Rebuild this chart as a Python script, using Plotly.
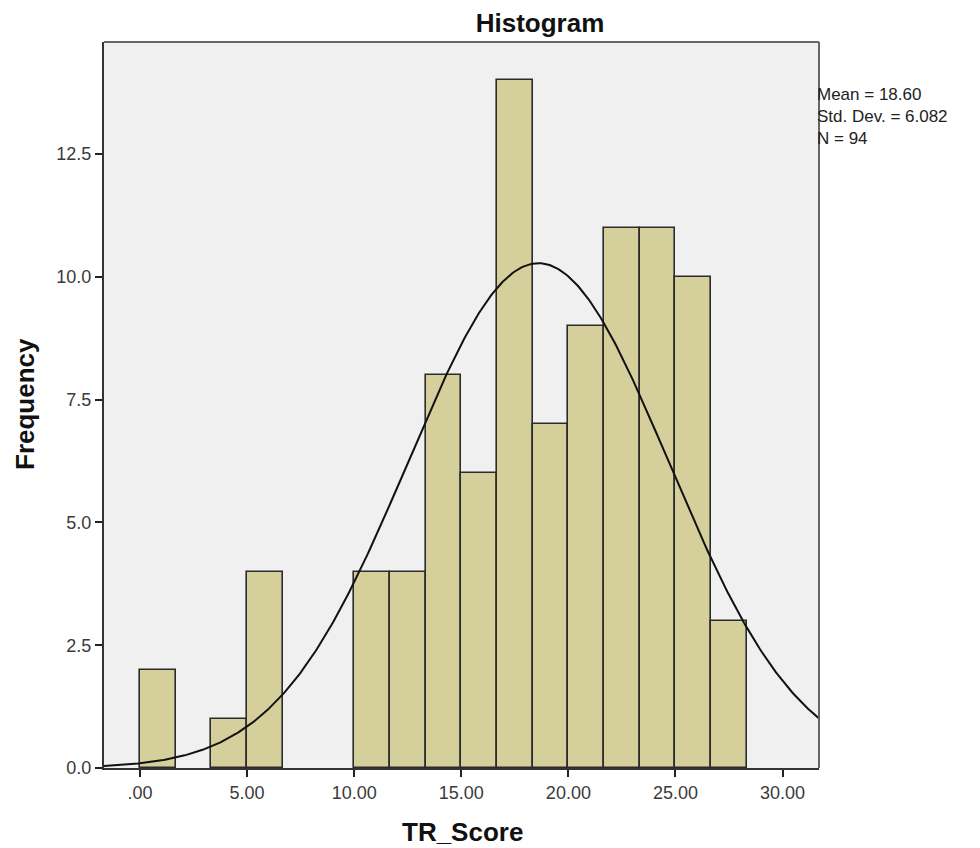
import numpy as np
import plotly.graph_objects as go

# Data
bin_width = 5.0 / 3.0
bin_starts = [0.0, 10/3, 5.0, 10.0, 35/3, 40/3, 15.0, 50/3, 55/3, 20.0, 65/3, 70/3, 25.0, 80/3]
counts = [2, 1, 4, 4, 4, 8, 6, 14, 7, 9, 11, 11, 10, 3]
mean_val = 18.60
sd_val = 6.082
n_val = 94
x_tick_vals = [0, 5, 10, 15, 20, 25, 30]
x_tick_text = [".00", "5.00", "10.00", "15.00", "20.00", "25.00", "30.00"]
y_tick_vals = [0, 2.5, 5.0, 7.5, 10.0, 12.5]

x_range = [-1.68, 31.7]
y_range = [0, 14.78]

centers = [s + bin_width / 2 for s in bin_starts]

fig = go.Figure()
fig.add_trace(go.Bar(
    x=centers, y=counts, width=[bin_width] * len(counts),
    marker=dict(color="#d4cf9b", line=dict(color="#2b2b2b", width=1.6)),
    hoverinfo="x+y", showlegend=False,
))

xs = np.linspace(x_range[0], x_range[1], 400)
ys = n_val * bin_width / (sd_val * np.sqrt(2 * np.pi)) * np.exp(-0.5 * ((xs - mean_val) / sd_val) ** 2)
fig.add_trace(go.Scatter(x=xs, y=ys, mode="lines", line=dict(color="#111111", width=2),
                         showlegend=False, hoverinfo="skip"))

# page body has a default 8px margin; compensate so the plot lands where the reference has it
off = 8
W, H = 980 - off, 848 - off
L, R, T, B = 104 - off, 161, 42 - off, 80
PW, PH = 980 - 104 - 161, 768 - 42

font_family = "Liberation Sans, Arial, sans-serif"
fig.update_layout(
    width=W, height=H,
    margin=dict(l=L, r=R, t=T, b=B, pad=0, autoexpand=False),
    paper_bgcolor="white", plot_bgcolor="#f0f0f0",
    font=dict(family=font_family, color="#333333", size=18),
    bargap=0,
    title=dict(text="<b>Histogram</b>", x=(540 - off) / W, xanchor="center",
               y=1 - (23 - off) / H, yanchor="middle", font=dict(size=26, color="#111111")),
    xaxis=dict(
        range=x_range, tickvals=x_tick_vals, ticktext=x_tick_text,
        ticks="outside", ticklen=7, tickwidth=2, tickcolor="#222222",
        showline=True, linecolor="#333333", linewidth=2,
        showgrid=False, zeroline=False, automargin=False,
        tickfont=dict(size=18, color="#3a3a3a"),
    ),
    yaxis=dict(
        range=y_range, tickvals=y_tick_vals, tickformat=".1f",
        ticks="outside", ticklen=7, tickwidth=2, tickcolor="#222222",
        showline=True, linecolor="#333333", linewidth=2,
        showgrid=False, zeroline=False, automargin=False,
        tickfont=dict(size=18, color="#3a3a3a"),
    ),
    shapes=[
        dict(type="line", xref="paper", yref="paper", x0=0, x1=1, y0=1, y1=1,
             line=dict(color="#666666", width=2)),
        dict(type="line", xref="paper", yref="paper", x0=1, x1=1, y0=0, y1=1,
             line=dict(color="#666666", width=2)),
    ],
    annotations=[
        dict(xref="paper", yref="paper", x=(815 - 104) / PW, y=1 - (83 - 42) / PH,
             xanchor="left", yanchor="top", align="left", showarrow=False,
             text="Mean = 18.60<br>Std. Dev. = 6.082<br>N = 94",
             font=dict(size=17, color="#222222")),
        dict(xref="paper", yref="paper", x=(462 - 104) / PW, y=-(832 - 768) / PH,
             xanchor="center", yanchor="middle", showarrow=False,
             text="<b>TR_Score</b>", font=dict(size=26, color="#111111")),
        dict(xref="paper", yref="paper", x=-(104 - 25) / PW, y=(768 - 404) / PH,
             xanchor="center", yanchor="middle", showarrow=False, textangle=-90,
             text="<b>Frequency</b>", font=dict(size=26, color="#111111")),
    ],
)

fig.write_html("out.html")
